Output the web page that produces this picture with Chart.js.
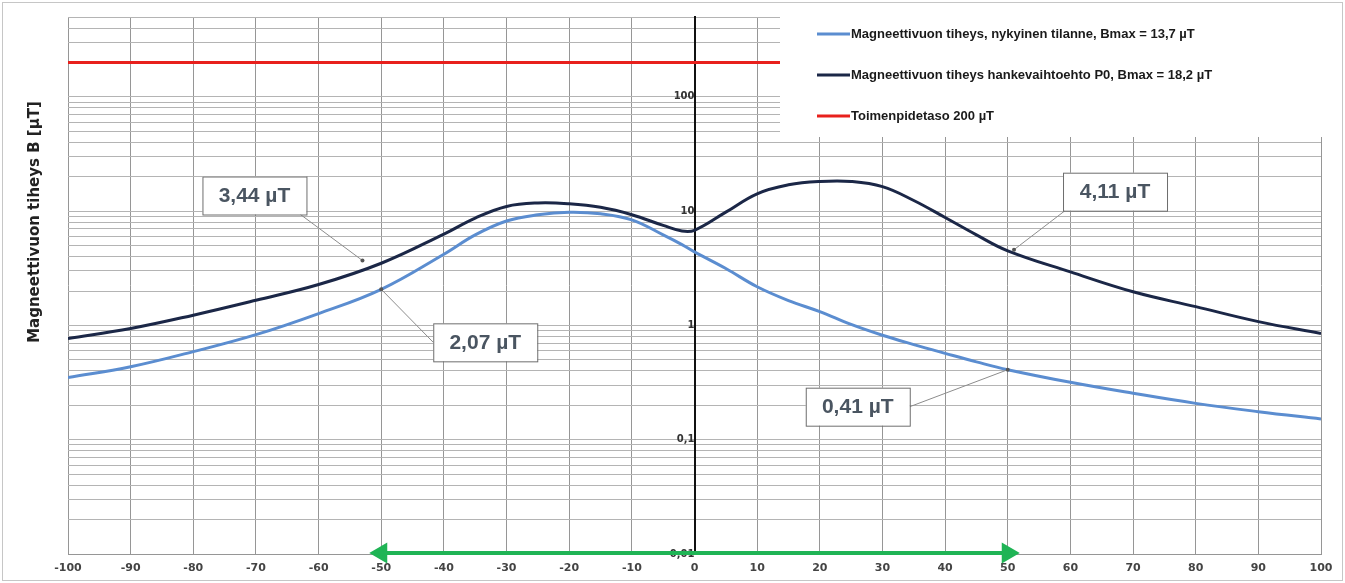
<!DOCTYPE html>
<html>
<head>
<meta charset="utf-8">
<script src="https://cdn.jsdelivr.net/npm/chart.js@4/dist/chart.umd.min.js"></script>
<style>
    html, body { margin: 0; padding: 0; background: #fff; }
    #wrap { width: 1345px; height: 583px; position: relative; }
</style>
</head>
<body>
<div id="wrap"><canvas id="magnetic-field-chart"></canvas></div>
<script>
// Magnetic flux density vs. distance from line (log scale)
const distances = [-100, -90, -80, -70, -60, -50, -40, -35, -30, -25, -20, -15, -10, -5, -2,
    0, 5, 10, 15, 20, 25, 30, 35, 40, 45, 50, 60, 70, 80, 90, 100];

const currentField = [0.35, 0.435, 0.59, 0.83, 1.27, 2.07, 4.2, 6.2, 8.2, 9.3, 9.8, 9.5, 8.4, 6.2, 5.1,
    4.4, 3.15, 2.18, 1.65, 1.32, 1.02, 0.82, 0.68, 0.57, 0.48, 0.41, 0.318, 0.255, 0.208, 0.176, 0.152];

const optionP0Field = [0.77, 0.94, 1.23, 1.66, 2.28, 3.5, 6.3, 8.7, 11.0, 11.8, 11.6, 10.8, 9.3, 7.5, 6.7,
    6.8, 9.8, 14.2, 17.0, 18.2, 18.2, 16.4, 12.4, 8.8, 6.2, 4.5, 2.94, 1.97, 1.46, 1.08, 0.85];

const limitDistances = [-100, 100];
const limitValues = [200, 200];

// green arrow (corridor width)
const corridorDistances = [-50, 50];
const corridorValues = [0.0102, 0.0102];

const seriesLabels = [
    "Magneettivuon tiheys, nykyinen tilanne, Bmax = 13,7 µT",
    "Magneettivuon tiheys hankevaihtoehto P0, Bmax = 18,2 µT",
    "Toimenpidetaso 200 µT",
];

const yMajorTicks = [0.01, 0.1, 1, 10, 100];
const yMajorLabels = ["0,01", "0,1", "1", "10", "100"];
const yTitle = "Magneettivuon tiheys B [µT]";

// callouts
const calloutTexts = ["3,44 µT", "2,07 µT", "0,41 µT", "4,11 µT"];
const calloutDistances = [-53, -50, 50, 51];
const calloutValues = [3.7, 2.07, 0.41, 4.6];

const toPoints = (xs, ys) => xs.map((x, i) => ({ x: x, y: ys[i] }));

const data = {
    datasets: [{
        label: seriesLabels[1],
        borderColor: "#1b2747",
        backgroundColor: "#1b2747",
        borderWidth: 3,
        pointRadius: 0,
        tension: 0.4,
        data: toPoints(distances, optionP0Field),
    },
    {
        label: seriesLabels[0],
        borderColor: "#5b8dd0",
        backgroundColor: "#5b8dd0",
        borderWidth: 3,
        pointRadius: 0,
        tension: 0.4,
        data: toPoints(distances, currentField),
    },
    {
        label: seriesLabels[2],
        borderColor: "#e8201c",
        backgroundColor: "#e8201c",
        borderWidth: 3,
        pointRadius: 0,
        data: toPoints(limitDistances, limitValues),
    },
    {
        label: "",
        borderColor: "#1fb455",
        backgroundColor: "#1fb455",
        borderWidth: 4,
        pointStyle: "triangle",
        pointRadius: 8,
        pointRotation: [-90, 90],
        clip: false,
        data: toPoints(corridorDistances, corridorValues),
    }]
};

// legend order as in the picture
const legendOrder = [1, 0, 2];

const framePlugin = {
    id: "frame",
    beforeDraw(chart) {
        const ctx = chart.ctx;
        ctx.save();
        ctx.strokeStyle = "#c6c6c6";
        ctx.lineWidth = 1;
        ctx.strokeRect(2.5, 2.5, chart.width - 5, chart.height - 5);
        ctx.restore();
    }
};

const overlayPlugin = {
    id: "overlay",
    afterDatasetsDraw(chart) {
        const ctx = chart.ctx;
        const area = chart.chartArea;
        const xs = chart.scales.x, ys = chart.scales.y;
        ctx.save();

        // y title
        ctx.save();
        ctx.translate(35, 222);
        ctx.rotate(-Math.PI / 2);
        ctx.fillStyle = "#222";
        ctx.font = "bold 15px 'DejaVu Sans'";
        ctx.textAlign = "center";
        ctx.textBaseline = "middle";
        ctx.fillText(yTitle, 0, 0);
        ctx.restore();

        // legend box
        const lx = 780, ly = area.top - 2;
        ctx.fillStyle = "#fff";
        ctx.fillRect(lx, ly, area.right - lx + 1, 137 - ly);
        ctx.font = "bold 13px 'Liberation Sans'";
        ctx.textBaseline = "middle";
        ctx.textAlign = "left";
        legendOrder.forEach((di, i) => {
            const ds = chart.data.datasets[di];
            const y = 34 + i * 41;
            ctx.strokeStyle = ds.borderColor;
            ctx.lineWidth = 3;
            ctx.beginPath();
            ctx.moveTo(817, y);
            ctx.lineTo(850, y);
            ctx.stroke();
            ctx.fillStyle = "#1a1a1a";
            ctx.fillText(ds.label, 851, y);
        });

        // callouts: box centre offset from anchor, and leader start side
        const offsets = [[-108, -65], [104, 53], [-150, 37], [101, -58]];
        const sides = ["bottom", "left", "right", "bottom"];
        calloutTexts.forEach((t, i) => {
            const px = xs.getPixelForValue(calloutDistances[i]);
            const py = ys.getPixelForValue(calloutValues[i]);
            const cx = px + offsets[i][0], cy = py + offsets[i][1];
            const w = 104, h = 38;
            let sx = cx, sy = cy;
            if (sides[i] === "left") sx = cx - w / 2;
            if (sides[i] === "right") sx = cx + w / 2;
            if (sides[i] === "bottom") {
                sy = cy + h / 2;
                sx = offsets[i][0] < 0 ? cx + w / 2 - 6 : cx - w / 2 + 2;
            }
            ctx.strokeStyle = "#8c8c8c";
            ctx.lineWidth = 1;
            ctx.beginPath();
            ctx.moveTo(sx, sy);
            ctx.lineTo(px, py);
            ctx.stroke();
            ctx.fillStyle = "#555";
            ctx.beginPath();
            ctx.arc(px, py, 2, 0, Math.PI * 2);
            ctx.fill();
            ctx.fillStyle = "#fff";
            ctx.fillRect(cx - w / 2, cy - h / 2, w, h);
            ctx.strokeStyle = "#6e6e6e";
            ctx.strokeRect(cx - w / 2 + 0.5, cy - h / 2 + 0.5, w, h);
            ctx.fillStyle = "#4a5561";
            ctx.font = "bold 21px 'Liberation Sans'";
            ctx.textAlign = "center";
            ctx.fillText(t, cx, cy + 1);
        });
        ctx.restore();
    }
};

const config = {
    type: "line",
    data,
    options: {
        responsive: true,
        maintainAspectRatio: false,
        animation: false,
        layout: { padding: { left: 68, right: 24, top: 17, bottom: 0 } },
        plugins: {
            legend: { display: false },
            tooltip: { enabled: false },
        },
        scales: {
            x: {
                type: "linear",
                min: -100,
                max: 100,
                grid: { color: "#969696", lineWidth: 1, drawTicks: false },
                border: { color: "#969696" },
                ticks: {
                    stepSize: 10,
                    padding: 9,
                    color: "#444",
                    font: { family: "DejaVu Sans", size: 11, weight: "bold", lineHeight: 1 },
                },
            },
            y: {
                type: "logarithmic",
                min: 0.01,
                max: 500,
                position: { x: 0 },
                grid: { color: "#b4b4b4", lineWidth: 1, tickLength: 4 },
                border: { color: "#111", width: 2 },
                afterBuildTicks(scale) {
                    const ticks = [];
                    for (let e = -2; e <= 2; e++) {
                        for (let m = 1; m <= 9; m++) {
                            const v = +(m * Math.pow(10, e)).toPrecision(3);
                            if (v <= 500) ticks.push({ value: v });
                        }
                    }
                    scale.ticks = ticks;
                },
                ticks: {
                    autoSkip: false,
                    padding: 2,
                    color: "#333",
                    font: { family: "DejaVu Sans", size: 10, weight: "bold" },
                    callback(value) {
                        const idx = yMajorTicks.findIndex(t => Math.abs(t - value) < t * 1e-6);
                        return idx >= 0 ? yMajorLabels[idx] : "";
                    },
                },
            },
        },
    },
    plugins: [framePlugin, overlayPlugin],
};

var fieldChart = new Chart(
    document.getElementById("magnetic-field-chart"),
    config
);
</script>
</body>
</html>
